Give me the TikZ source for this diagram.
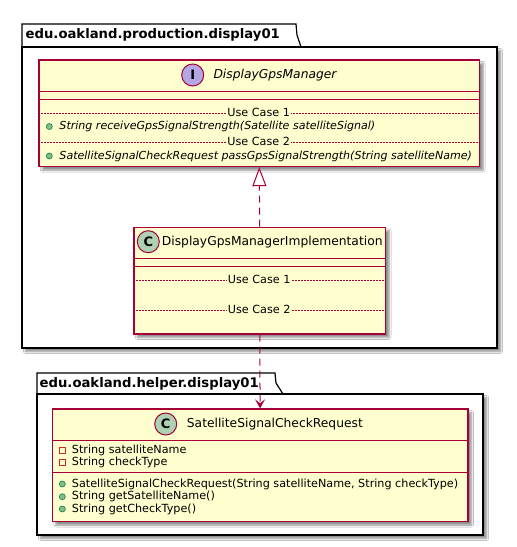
\documentclass[tikz,border=0pt]{standalone}
\usepackage{fontspec}
\setmainfont{DejaVu Sans}
\usetikzlibrary{arrows.meta,shadows.blur}
\definecolor{umlfill}{HTML}{FEFECE}
\definecolor{umlborder}{HTML}{A80036}
\definecolor{ifacecirc}{HTML}{B4A7E5}
\definecolor{classcirc}{HTML}{ADD1B2}
\definecolor{pubfill}{HTML}{84BE84}
\definecolor{pubdraw}{HTML}{038048}
\definecolor{privdraw}{HTML}{C82930}
\tikzset{
  softshadow/.style={blur shadow={shadow xshift=3.5pt, shadow yshift=-3.5pt, shadow blur radius=2pt, shadow blur steps=6, shadow opacity=45}},
  pkgline/.style={draw=black, line width=1.2pt, fill=white},
  umlbox/.style={draw=umlborder, fill=umlfill, line width=1.2pt, inner sep=0pt, softshadow},
  sepline/.style={draw=umlborder, line width=1pt},
  dotsep/.style={draw=umlborder, line width=0.5pt, dash pattern=on 1.5pt off 1.5pt},
  seplabel/.style={fill=umlfill, inner sep=1pt, font=\fontsize{11.2}{13}\selectfont},
  pkglabel/.style={anchor=west, inner sep=0pt, font=\fontsize{13.2}{15}\selectfont\bfseries},
  titletext/.style={anchor=west, inner sep=0pt, font=\fontsize{12.3}{14}\selectfont},
  member/.style={anchor=west, inner sep=0pt, font=\fontsize{11.2}{13}\selectfont},
  abstractmember/.style={anchor=west, inner sep=0pt, font=\fontsize{11.05}{13}\selectfont\itshape},
  icon/.style={circle, draw=umlborder, line width=1pt, minimum size=22pt, inner sep=0pt, font=\fontsize{13}{14}\selectfont\bfseries},
  pubmark/.style={circle, draw=pubdraw, fill=pubfill, line width=0.6pt, minimum size=6pt, inner sep=0pt},
  privmark/.style={rectangle, draw=privdraw, fill=none, line width=0.8pt, minimum size=6pt, inner sep=0pt},
  conn/.style={draw=umlborder, line width=1pt, dash pattern=on 7pt off 5pt}
}
\begin{document}
\begin{tikzpicture}[x=1pt,y=-1pt]
\useasboundingbox[fill=white] (0,0) rectangle (517,547);

% ---------- package 1 ----------
\draw[pkgline] (22,47) -- (22,24) -- (296,24) -- (297,35) -- (301,47) -- cycle;
\draw[pkgline, softshadow] (22,47) rectangle (497,348);
\node[pkglabel] (pkg1) at (25.5,35) {edu.oakland.production.display01};

% ---------- package 2 ----------
\draw[pkgline] (37,394) -- (37,373) -- (275,373) -- (276,383) -- (283,394) -- cycle;
\draw[pkgline, softshadow] (37,394) rectangle (483,535);
\node[pkglabel] (pkg2) at (39.5,383.5) {edu.oakland.helper.display01};

% ---------- interface DisplayGpsManager ----------
\node[umlbox, minimum width=440.7pt, minimum height=106.7pt, anchor=north west] (iface) at (38.3,59.3) {};
\draw[sepline] (38.3,91) -- (479,91);
\draw[sepline] (38.3,99.3) -- (479,99.3);
\node[icon, fill=ifacecirc] (ifaceicon) at (192.7,75) {I};
\node[titletext, font=\fontsize{12.3}{14}\selectfont\itshape] (ifacetitle) at (213.3,75) {DisplayGpsManager};
\draw[dotsep] (38.3,113) -- (479,113);
\node[seplabel] (ifuc1) at (258.7,112.5) {Use Case 1};
\node[pubmark] (ifm1mark) at (49.3,126.5) {};
\node[abstractmember] (ifm1) at (59.3,126.5) {String receiveGpsSignalStrength(Satellite satelliteSignal)};
\draw[dotsep] (38.3,142) -- (479,142);
\node[seplabel] (ifuc2) at (258.7,141.5) {Use Case 2};
\node[pubmark] (ifm2mark) at (49.3,156) {};
\node[abstractmember] (ifm2) at (59.3,156) {SatelliteSignalCheckRequest passGpsSignalStrength(String satelliteName)};

% ---------- class DisplayGpsManagerImplementation ----------
\node[umlbox, minimum width=251.7pt, minimum height=106.6pt, anchor=north west] (impl) at (133.3,226.7) {};
\draw[sepline] (133.3,258.3) -- (385,258.3);
\draw[sepline] (133.3,266.7) -- (385,266.7);
\node[icon, fill=classcirc] (implicon) at (148.3,241.7) {C};
\node[titletext] (impltitle) at (161.7,242) {DisplayGpsManagerImplementation};
\draw[dotsep] (133.3,280) -- (385,280);
\node[seplabel] (impluc1) at (259.2,279.5) {Use Case 1};
\draw[dotsep] (133.3,310) -- (385,310);
\node[seplabel] (impluc2) at (259.2,309.5) {Use Case 2};

% ---------- class SatelliteSignalCheckRequest ----------
\node[umlbox, minimum width=415.6pt, minimum height=112.7pt, anchor=north west] (sat) at (51.7,408.3) {};
\draw[sepline] (51.7,440) -- (467.3,440);
\draw[sepline] (51.7,472.7) -- (467.3,472.7);
\node[icon, fill=classcirc] (saticon) at (165.7,424) {C};
\node[titletext] (sattitle) at (186.7,424.3) {SatelliteSignalCheckRequest};
\node[privmark] (sata1mark) at (62.3,450) {};
\node[member] (sata1) at (71.7,450) {String satelliteName};
\node[privmark] (sata2mark) at (62.3,462.7) {};
\node[member] (sata2) at (71.7,462.7) {String checkType};
\node[pubmark] (satm1mark) at (62.3,484) {};
\node[member] (satm1) at (71.7,484) {SatelliteSignalCheckRequest(String satelliteName, String checkType)};
\node[pubmark] (satm2mark) at (62.3,496.7) {};
\node[member] (satm2) at (71.7,496.7) {String getSatelliteName()};
\node[pubmark] (satm3mark) at (62.3,509) {};
\node[member] (satm3) at (71.7,509) {String getCheckType()};

% ---------- connectors ----------
\draw[conn, -{Triangle[open, length=19pt, width=14pt, line width=1pt, fill=white]}] (impl.north) -- (iface.south);
\draw[conn, -{Stealth[length=9pt, width=10pt, inset=4pt]}] (impl.south) -- (sat.north);
\end{tikzpicture}
\end{document}
